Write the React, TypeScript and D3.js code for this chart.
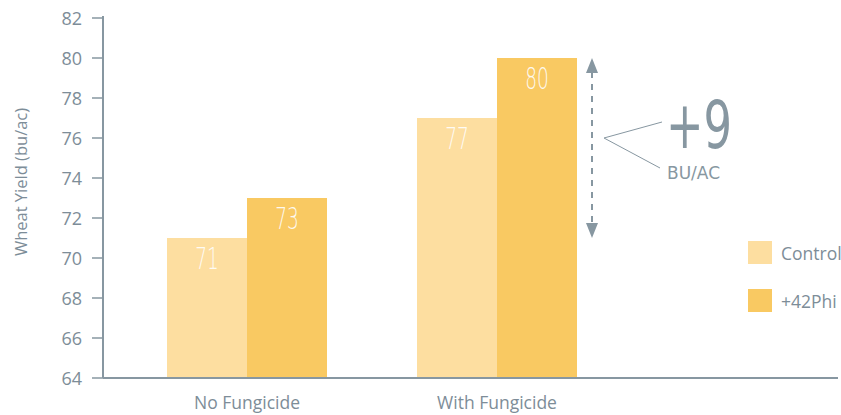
import React from "react"
import * as d3 from "d3"

const groups = ["No Fungicide", "With Fungicide"]
const seriesNames = ["Control", "+42Phi"]
const controlValues = [71, 77]
const phiValues = [73, 80]
const yTicks = [64, 66, 68, 70, 72, 74, 76, 78, 80, 82]
const gainFrom = 71
const gainTo = 80
const gainLabel = "+9"
const gainUnit = "BU/AC"

const colors = ["#fddea0", "#f9c962"]
const textColor = "#7d8d98"
const axisColor = "#8797a1"
const font = "'Open Sans', 'Noto Sans', sans-serif"
// no handwriting font offline: a thin face squeezed sideways stands in for it
const handFont = "'DejaVu Sans', sans-serif"

const W = 841
const H = 415

export default function App() {
	const margin = { top: 18, left: 103, bottom: 37 }
	const y = d3
		.scaleLinear()
		.domain([64, 82])
		.range([H - margin.bottom, margin.top])
	const x = d3.scaleBand().domain(groups).range([122, 622]).padding(0)
	const xs = d3
		.scaleBand()
		.domain(seriesNames)
		.range([45, 205])
		.padding(0)

	const rows = groups.map((g, i) => ({
		group: g,
		vals: [controlValues[i], phiValues[i]],
	}))

	const ax = 592
	const yTop = y(gainTo)
	const yBot = y(gainFrom)

	return (
		<svg
			width={W}
			height={H}
			style={{ position: "absolute", left: 0, top: 0, background: "#fff" }}>
			{/* bars */}
			{rows.map((r) =>
				r.vals.map((v, j) => {
					const bx = (x(r.group) as number) + (xs(seriesNames[j]) as number)
					const cx = bx + xs.bandwidth() / 2
					return (
						<g key={r.group + j}>
							<rect
								x={bx}
								y={y(v)}
								width={xs.bandwidth()}
								height={y(64) - y(v)}
								fill={colors[j]}
							/>
							<text
								transform={`translate(${cx},${y(v) + 31}) scale(0.62,1)`}
								textAnchor="middle"
								fontFamily={handFont}
								fontSize={30}
								fontWeight={200}
								fill="#fff"
								opacity={0.9}>
								{v}
							</text>
						</g>
					)
				})
			)}

			{/* y axis */}
			<line
				x1={margin.left}
				x2={margin.left}
				y1={y(82) - 2}
				y2={y(64)}
				stroke={axisColor}
				strokeWidth={2}
			/>
			{yTicks.map((t) => (
				<g key={t}>
					<line
						x1={margin.left - 11}
						x2={margin.left}
						y1={y(t)}
						y2={y(t)}
						stroke={axisColor}
						strokeWidth={1.5}
					/>
					<text
						x={82}
						y={y(t) + 6.5}
						textAnchor="end"
						fontFamily={font}
						fontSize={18}
						fill={textColor}>
						{t}
					</text>
				</g>
			))}
			<text
				transform={`translate(27,${182}) rotate(-90)`}
				textAnchor="middle"
				fontFamily={font}
				fontSize={16.5}
				fill={textColor}>
				Wheat Yield (bu/ac)
			</text>

			{/* x axis */}
			<line
				x1={margin.left}
				x2={838}
				y1={y(64)}
				y2={y(64)}
				stroke={axisColor}
				strokeWidth={2}
			/>
			{groups.map((g) => (
				<text
					key={g}
					x={(x(g) as number) + x.bandwidth() / 2}
					y={409}
					textAnchor="middle"
					fontFamily={font}
					fontSize={17.5}
					fill={textColor}>
					{g}
				</text>
			))}

			{/* gain annotation */}
			<line
				x1={ax}
				x2={ax}
				y1={yTop + 14}
				y2={yBot - 14}
				stroke={axisColor}
				strokeWidth={2}
				strokeDasharray="6,6"
			/>
			<path
				d={`M${ax},${yTop} L${ax - 6},${yTop + 15} L${ax + 6},${yTop + 15} Z`}
				fill={axisColor}
			/>
			<path
				d={`M${ax},${yBot} L${ax - 6},${yBot - 15} L${ax + 6},${yBot - 15} Z`}
				fill={axisColor}
			/>
			<path
				d="M662,122 L604,138 L660,168"
				fill="none"
				stroke={axisColor}
				strokeWidth={1}
			/>
			<text
				transform="translate(666,148) scale(0.68,1)"
				fontFamily={handFont}
				fontSize={66}
				fill={axisColor}>
				{gainLabel}
			</text>
			<text
				x={667}
				y={179}
				fontFamily={handFont}
				fontSize={17}
				fill={axisColor}>
				{gainUnit}
			</text>

			{/* legend */}
			{seriesNames.map((s, i) => (
				<g key={s} transform={`translate(748,${241 + i * 48})`}>
					<rect width={24} height={23} fill={colors[i]} />
					<text
						x={33}
						y={19}
						fontFamily={font}
						fontSize={17.5}
						fill={textColor}>
						{s}
					</text>
				</g>
			))}
		</svg>
	)
}
